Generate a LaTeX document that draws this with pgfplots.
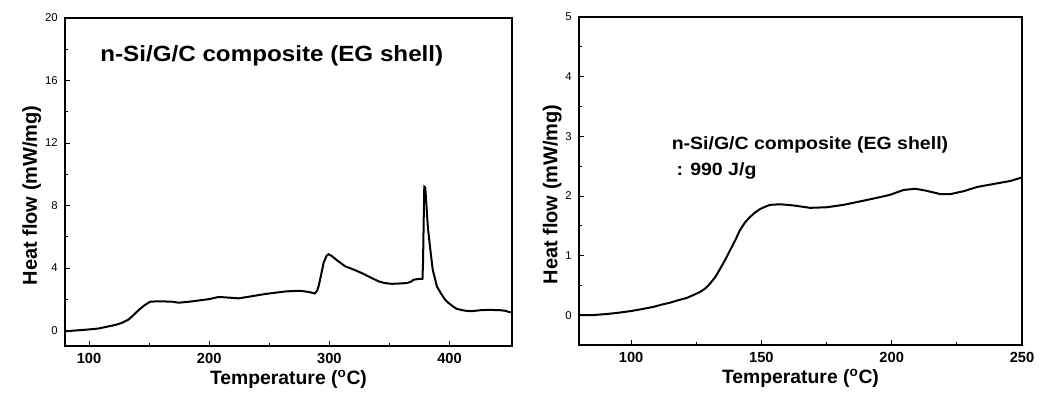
\documentclass[border=0pt]{standalone}
\usepackage{fontspec}
\setmainfont{Liberation Sans}
\newfontfamily\widefont[FakeStretch=1.1]{Liberation Sans}
\usepackage{pgfplots}
\pgfplotsset{compat=1.18}
\begin{document}
\begin{tikzpicture}[x=1pt,y=1pt]
\pgfplotsset{
  dscstyle/.style={
    scale only axis,
    height=246pt,
    axis line style={line width=0.8pt},
    tick style={black, line width=0.6pt},
    tick align=inside,
    xtick pos=bottom, ytick pos=left,
    major tick length=3.5pt,
    minor tick length=2.5pt,
    minor tick num=1,
    /pgf/number format/assume math mode=true,
    xticklabel style={font=\fontsize{11}{12}\selectfont\bfseries, yshift=-2pt},
    yticklabel style={font=\fontsize{8.5}{10}\selectfont, xshift=-2pt},
    xlabel={Temperature (\textsuperscript{o}C)},
    ylabel={Heat flow (mW/mg)},
    xlabel style={font=\fontsize{14.5}{17}\selectfont\bfseries, yshift=2pt},
    ylabel style={font=\fontsize{15}{17}\selectfont\bfseries, yshift=-4pt, xshift=-10pt},
    clip=true,
  },
}
\begin{axis}[dscstyle, at={(0pt,0pt)}, anchor=south west,
  width=335.25pt,
  xmin=80, xmax=452, ymin=-1, ymax=20,
  xtick={100,200,300,400}, ytick={0,4,8,12,16,20},
  minor xtick={150,250,350}, minor ytick={-2,2,6,10,14,18},
]
\addplot[black, line width=1.5pt] coordinates {
(79.5,-0.06) (90,0.0) (100,0.06) (108,0.12) (116.4,0.26) (122,0.35) (127.4,0.48) (133,0.7)
(137,0.98) (141.3,1.3) (146,1.6) (151,1.84) (158,1.86) (169,1.84) (174.6,1.77) (185,1.85)
(199.8,2.0) (208,2.14) (216,2.1) (224.5,2.05) (235,2.18) (246.7,2.33) (256,2.42) (263.3,2.49)
(270,2.52) (275.8,2.53) (281,2.48) (284,2.44) (287.7,2.36) (289.5,2.5) (291,2.81) (293,3.5)
(295.2,4.32) (297.5,4.75) (299.3,4.88) (302,4.76) (307,4.45) (313.2,4.1) (320,3.9) (327,3.67)
(334,3.4) (340.9,3.14) (346,3.03) (352,2.98) (358,3.0) (364.5,3.03) (368,3.12) (370,3.24)
(374,3.29) (377.5,3.29) (378,4.5) (378.5,7.0) (379,9.2) (379.8,9.15) (380.8,8.0) (382,6.6)
(384,5.19) (386,3.9) (389.5,2.81) (393,2.35) (396.5,1.95) (400,1.7) (403.3,1.51) (406,1.38)
(410.2,1.3) (414,1.25) (418.5,1.23) (426.9,1.3) (433,1.31) (440.7,1.3) (446,1.26) (451,1.15)
};
\node[anchor=base west, font=\widefont\fontsize{16.5}{18}\selectfont\bfseries] at (axis cs:105.5,17.2) {n-Si/G/C composite (EG shell)};
\end{axis}
\begin{axis}[dscstyle, at={(385.5pt,0.75pt)}, anchor=south west,
  width=332.25pt,
  xmin=80, xmax=250, ymin=-0.5, ymax=5,
  xtick={100,150,200,250}, ytick={0,1,2,3,4,5},
  minor xtick={125,175,225}, minor ytick={0.5,1.5,2.5,3.5,4.5},
]
\addplot[black, line width=1.5pt] coordinates {
(80.2,0.0) (85,0.0) (90.7,0.02) (95,0.04) (100,0.07) (104,0.1) (108.6,0.14) (112,0.18) (115,0.21)
(118,0.25) (121.4,0.29) (124,0.34) (126.5,0.39) (128.5,0.45) (130.3,0.53) (132.3,0.64)
(134.2,0.78) (136,0.92) (138,1.09) (140,1.26) (141.8,1.43) (143.8,1.56) (145.7,1.65)
(147.5,1.72) (149.5,1.78) (151.5,1.82) (153.3,1.85) (157.2,1.86) (162.3,1.84) (168.7,1.8)
(175.1,1.81) (181.5,1.85) (189.2,1.92) (195.6,1.98) (199.5,2.02) (202,2.06) (204.6,2.1)
(209.1,2.12) (212.9,2.09) (218.7,2.03) (222.5,2.03) (227.7,2.08) (232.8,2.15) (239.1,2.2)
(245.5,2.25) (250,2.31)
};
\node[anchor=base west, font=\widefont\fontsize{13.3}{15}\selectfont\bfseries] at (axis cs:113.8,2.77) {n-Si/G/C composite (EG shell)};
\node[anchor=base west, font=\widefont\fontsize{13.3}{15}\selectfont\bfseries] at (axis cs:114.5,2.35) {\,: 990 J/g};
\end{axis}
\path[use as bounding box] (-48.75pt,-42.75pt) rectangle (736.5pt,259.5pt);
\end{tikzpicture}
\end{document}
